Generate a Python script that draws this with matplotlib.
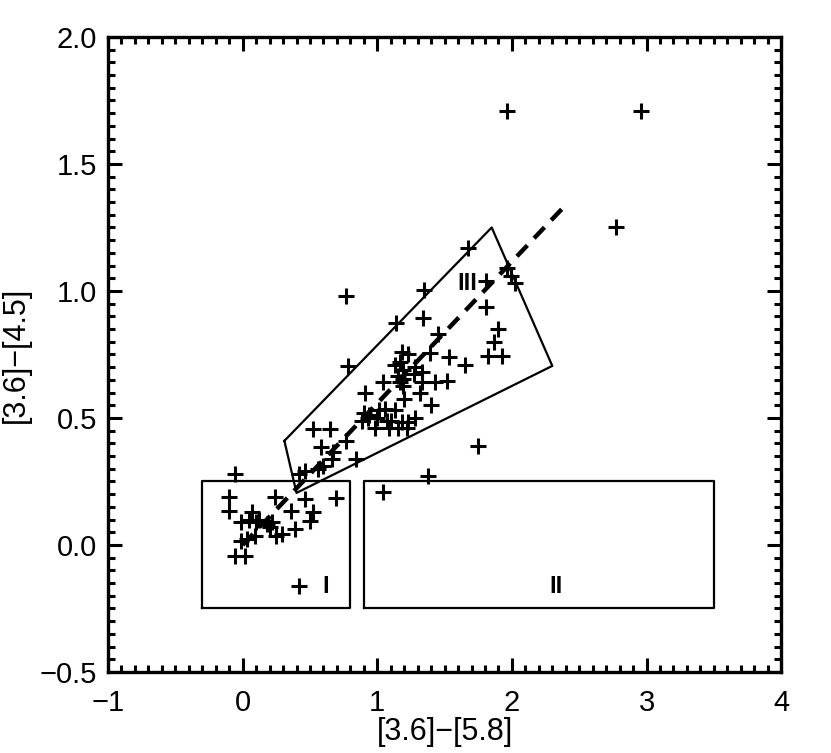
import matplotlib
matplotlib.use("Agg")
import matplotlib.pyplot as plt
from matplotlib.ticker import MultipleLocator

# colour-colour points ([3.6]-[5.8], [3.6]-[4.5])
x_pts = [
    1.96, 2.96, 2.77, 0.77, 1.75, 1.38, 1.04, 0.42, -0.06,
    1.675, 1.35, 1.81, 1.96, 1.99, 2.02, 1.81, 1.34, 1.14, 1.90, 1.87, 1.82, 1.93,
    1.45, 0.78, 1.65, 1.53, 1.39,
    1.18, 1.23, 1.13, 1.17, 1.19, 1.28, 1.33, 1.155, 1.19, 1.27, 1.04, 1.17, 1.19,
    1.33, 1.43, 1.52, 1.32, 0.91, 1.20, 1.40,
    0.90, 0.93, 0.89, 0.94, 1.01, 1.056, 1.13, 1.00, 1.07, 1.10, 1.18, 1.23, 1.28,
    0.98, 1.09, 1.155, 1.22,
    0.52, 0.65, 0.77, 0.585, 0.67, 0.66, 0.845, 0.46, 0.56, 0.60, 0.42,
    -0.10, -0.10, 0.24, 0.46, 0.69, 0.52, 0.50, 0.07, -0.01, 0.12, 0.18, 0.29,
    0.39, 0.25, 0.09, 0.03, -0.01, -0.06, 0.015, 0.20, 0.22, 0.36, 0.10, 0.05,
]
y_pts = [
    1.71, 1.71, 1.25, 0.98, 0.39, 0.27, 0.21, -0.16, 0.28,
    1.17, 1.005, 1.04, 1.09, 1.06, 1.03, 0.935, 0.895, 0.875, 0.85, 0.80, 0.745, 0.745,
    0.83, 0.705, 0.71, 0.74, 0.755,
    0.76, 0.75, 0.71, 0.72, 0.69, 0.70, 0.68, 0.665, 0.655, 0.673, 0.64, 0.64, 0.625,
    0.64, 0.64, 0.645, 0.60, 0.60, 0.575, 0.55,
    0.52, 0.50, 0.49, 0.51, 0.53, 0.535, 0.53, 0.50, 0.49, 0.49, 0.483, 0.483, 0.50,
    0.46, 0.46, 0.46, 0.46,
    0.457, 0.457, 0.41, 0.385, 0.365, 0.34, 0.34, 0.29, 0.30, 0.31, 0.28,
    0.19, 0.135, 0.19, 0.18, 0.185, 0.13, 0.095, 0.13, 0.09, 0.10, 0.083, 0.043,
    0.063, 0.037, 0.037, 0.024, 0.017, -0.042, -0.042, 0.07, 0.09, 0.135, 0.09, 0.10,
]

# class regions
box1_x = [-0.3, 0.8, 0.8, -0.3, -0.3]
box1_y = [-0.25, -0.25, 0.25, 0.25, -0.25]
box2_x = [0.9, 3.5, 3.5, 0.9, 0.9]
box2_y = [-0.25, -0.25, 0.25, 0.25, -0.25]
box3_x = [0.31, 1.85, 2.30, 0.40, 0.31]
box3_y = [0.41, 1.25, 0.705, 0.205, 0.41]
region_labels = ["I", "II", "III"]
region_label_x = [0.62, 2.33, 1.67]
region_label_y = [-0.165, -0.165, 1.03]

# trend line
trend_x = [0.0, 2.37]
trend_y = [0.0, 1.322]

plt.rcParams["font.family"] = ["Liberation Sans", "DejaVu Sans"]

fig = plt.figure(figsize=(8.31, 7.53), dpi=100)
ax = fig.add_axes([0.130, 0.1076, 0.810, 0.8433])

ax.plot(box1_x, box1_y, color="black", lw=1.6)
ax.plot(box2_x, box2_y, color="black", lw=1.6)
ax.plot(box3_x, box3_y, color="black", lw=1.6)
ax.plot(trend_x, trend_y, color="black", lw=3.2, dashes=(3.4, 2.2))
ax.plot(x_pts, y_pts, ls="none", marker="+", ms=11, mew=2.2, color="black")

for lab, lx, ly in zip(region_labels, region_label_x, region_label_y):
    ax.text(lx, ly, lab, ha="center", va="center", fontsize=17, fontweight="bold")

ax.set_xlim(-1, 4)
ax.set_ylim(-0.5, 2.0)
ax.xaxis.set_major_locator(MultipleLocator(1))
ax.xaxis.set_minor_locator(MultipleLocator(0.1))
ax.yaxis.set_major_locator(MultipleLocator(0.5))
ax.yaxis.set_minor_locator(MultipleLocator(0.05))
ax.xaxis.set_major_formatter(plt.FuncFormatter(lambda v, p: f"{v:.0f}".replace("-", "\u2212")))
ax.yaxis.set_major_formatter(plt.FuncFormatter(lambda v, p: f"{v:.1f}".replace("-", "\u2212")))
ax.tick_params(which="both", direction="in", top=True, right=True, width=2.2, labelsize=21)
ax.tick_params(which="major", length=10)
ax.tick_params(axis="x", which="major", pad=12)
ax.tick_params(axis="y", which="major", pad=8)
ax.tick_params(which="minor", length=5)
for sp in ax.spines.values():
    sp.set_linewidth(2.4)

ax.set_xlabel("[3.6]\u2212[5.8]", fontsize=22, labelpad=0)
fig.text(16 / 831, 1 - 355 / 753, "[3.6]\u2212[4.5]", rotation=90,
         ha="center", va="center", fontsize=22)

fig.savefig("out.png", dpi=100)
